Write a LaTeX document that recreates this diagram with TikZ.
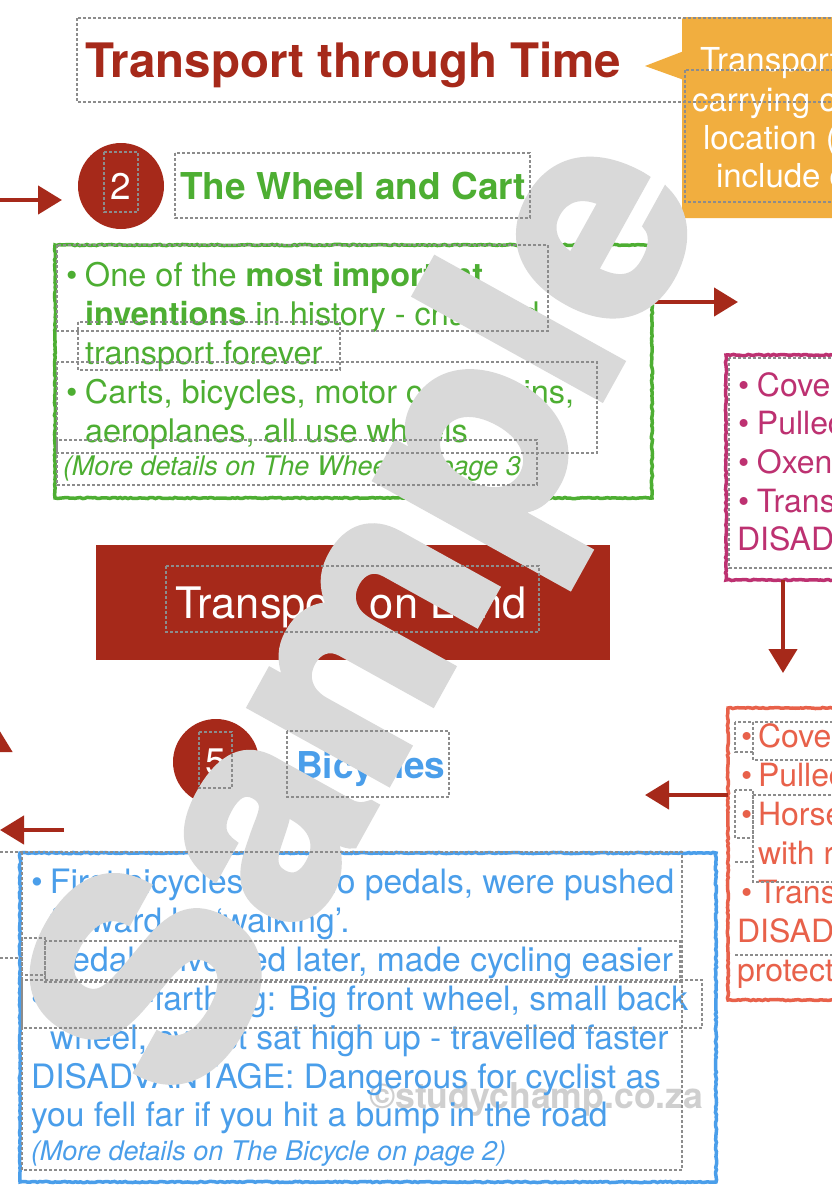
\documentclass[tikz,border=0pt]{standalone}
\usepackage{fontspec}
\setmainfont{TeX Gyre Heros}
\newfontfamily\wmfont{TeX Gyre Heros}[BoldFeatures={FakeBold=2.5}]
\usetikzlibrary{arrows.meta,decorations.pathmorphing}
\definecolor{dred}{HTML}{A6291A}
\definecolor{wgreen}{HTML}{4DAE32}
\definecolor{orng}{HTML}{F1AE3F}
\definecolor{mgnt}{HTML}{BD3171}
\definecolor{coral}{HTML}{E8614A}
\definecolor{bblue}{HTML}{4A9EEA}
\definecolor{wmgrey}{HTML}{D9D9D9}
\definecolor{cgrey}{HTML}{CFCFCF}
\definecolor{dgrey}{HTML}{8C8C8C}
\newcommand{\fsz}[1]{\fontsize{#1}{#1}\selectfont}
\newcommand{\bulx}[1][19pt]{\makebox[#1][l]{•}}
\begin{document}
\begin{tikzpicture}[x=1pt,y=-1pt,
  txt/.style={anchor=base west,inner sep=0pt,outer sep=0pt},
  framebox/.style={draw=dgrey,dash pattern=on 3pt off 2pt,line width=1.1pt},
  rough/.style={decorate,decoration={random steps,segment length=2.5pt,amplitude=0.6pt},line width=3.5pt},
  conn/.style={draw=dred,line width=4.5pt,-{Triangle[length=24pt,width=28pt]}},
  panel/.style={anchor=north west,inner sep=0pt,outer sep=0pt,rough},
  numcirc/.style={circle,fill=dred,minimum size=86pt,inner sep=0pt,text=white,font=\fsz{37}},
  body/.style={txt,font=\fsz{32.5}},
  bbody/.style={txt,font=\fsz{33.6},text=bblue},
  ctext/.style={txt,text=white,font=\fsz{33}},
  wmark/.style={rotate=61,text=wmgrey,font=\wmfont\fsz{291}\bfseries,inner sep=0pt},
]
\useasboundingbox (0,0) rectangle (832,1194);
\clip (0,0) rectangle (832,1194);
\fill[white] (0,0) rectangle (832,1194);

% ---------- panels ----------
\node[panel,draw=wgreen,minimum width=597pt,minimum height=253pt] (green) at (55,245) {};
\node[panel,draw=mgnt,minimum width=400pt,minimum height=225pt] (mag) at (726,355) {};
\node[panel,draw=coral,minimum width=400pt,minimum height=292pt] (cor) at (728,708) {};
\node[panel,draw=bblue,minimum width=696pt,minimum height=329pt] (blue) at (20,853) {};

% callout
\node[anchor=north west,fill=orng,minimum width=300pt,minimum height=201pt,inner sep=0pt,rounded corners=2pt] (call) at (682,17) {};
\fill[orng] (645,66) -- (684,51) -- (684,80) -- cycle;

% banner
\node[anchor=north west,fill=dred,minimum width=514pt,minimum height=115pt,inner sep=0pt] (land) at (96,545) {};

% number circles
\node[numcirc] (c2) at (121,186) {2};
\node[numcirc] (c5) at (216,762) {5};

% ---------- connectors ----------
\coordinate (a1s) at (-10,200);
\coordinate (a1e) at (62,200);
\draw[conn] (a1s) -- (a1e);
\coordinate (a2e) at (738,302);
\draw[conn] (green.east |- a2e) -- (a2e);
\coordinate (a3e) at (783,673);
\draw[conn] (a3e |- mag.south) -- (a3e);
\coordinate (a4e) at (645,795);
\draw[conn] (cor.west |- a4e) -- (a4e);
\coordinate (a5s) at (-2,800);
\coordinate (a5e) at (-2,728);
\draw[conn] (a5s) -- (a5e);
\coordinate (a6s) at (64,830);
\coordinate (a6e) at (0,830);
\draw[conn] (a6s) -- (a6e);

% ---------- watermark copyright ----------
\node[txt,text=cgrey,font=\fsz{35.6}\bfseries] (copy) at (369,1108) {©studychamp.co.za};

% ---------- texts ----------
\node[txt,text=dred,font=\fsz{47.5}\bfseries] (title) at (85,77) {Transport through Time};

\node[ctext] (k1) at (700,71) {Transport is the};
\node[ctext] (k2) at (692,111) {carrying of goods and};
\node[ctext] (k3) at (703,149) {location (place) to};
\node[ctext] (k4) at (716,187) {include cars, buses};

\node[txt,text=wgreen,font=\fsz{37}\bfseries] (h2) at (180,199) {The Wheel and Cart};
\node[body,text=wgreen] (g1) at (66,286) {\bulx One of the \textbf{most important}};
\node[body,text=wgreen] (g2) at (85,325) {\textbf{inventions} in history - changed};
\node[body,text=wgreen] (g3) at (85,364) {transport forever};
\node[body,text=wgreen] (g4) at (66,403) {\bulx Carts, bicycles, motor cars, trains,};
\node[body,text=wgreen] (g5) at (85,442) {aeroplanes, all use wheels};
\node[txt,text=wgreen,font=\fsz{27}\itshape] (g6) at (63,475) {(More details on The Wheel on page 3)};

\node[txt,text=white,font=\fsz{43.4}] (landt) at (175,618) {Transport on Land};

\node[txt,text=mgnt,font=\fsz{32}] (m1) at (738,396) {\bulx Covered wagons};
\node[txt,text=mgnt,font=\fsz{32}] (m2) at (738,434) {\bulx Pulled by oxen};
\node[txt,text=mgnt,font=\fsz{32}] (m3) at (738,473) {\bulx Oxen were slow};
\node[txt,text=mgnt,font=\fsz{32}] (m4) at (738,512) {\bulx Transported families};
\node[txt,text=mgnt,font=\fsz{32}] (m5) at (737,550) {DISADVANTAGE: slow};

\node[txt,text=coral,font=\fsz{32}] (r1) at (741,747) {\bulx[17pt]Covered coaches};
\node[txt,text=coral,font=\fsz{32}] (r2) at (741,786) {\bulx[17pt]Pulled by horses};
\node[txt,text=coral,font=\fsz{32}] (r3) at (741,825) {\bulx[17pt]Horses were faster};
\node[txt,text=coral,font=\fsz{32}] (r4) at (758,864) {with riders};
\node[txt,text=coral,font=\fsz{32}] (r5) at (741,903) {\bulx[17pt]Transported people};
\node[txt,text=coral,font=\fsz{32}] (r6) at (737,942) {DISADVANTAGE: little};
\node[txt,text=coral,font=\fsz{32}] (r7) at (737,981) {protection from weather};

\node[txt,text=bblue,font=\fsz{37}\bfseries] (h5) at (296,778) {Bicycles};
\node[bbody] (b1) at (31,893) {\bulx First bicycles had no pedals, were pushed};
\node[bbody] (b2) at (50,932) {forward by ‘walking’.};
\node[bbody] (b3) at (31,971) {\bulx Pedals invented later, made cycling easier};
\node[bbody] (b4) at (31,1010) {\bulx Penny-farthing: Big front wheel, small back};
\node[bbody] (b5) at (50,1049) {wheel, cyclist sat high up - travelled faster};
\node[bbody] (b6) at (31,1088) {DISADVANTAGE: Dangerous for cyclist as};
\node[bbody] (b7) at (31,1126) {you fell far if you hit a bump in the road};
\node[txt,text=bblue,font=\fsz{27}\itshape] (b8) at (31,1160) {(More details on The Bicycle on page 2)};

% ---------- Sample watermark ----------
\node[wmark] (wm) at (392,619) {\phantom{S}ample};
\node[wmark] (wmS) at (376,622) {S\phantom{ample}};

% ---------- dashed text frames ----------
\draw[framebox] (77,18) rectangle (900,102);
\draw[framebox] (685,70) rectangle (900,202);
\draw[framebox] (104,152) rectangle (138,212);
\draw[framebox] (175,153) rectangle (530,218);
\draw[framebox] (57,245) rectangle (548,331);
\draw[framebox] (78,322) rectangle (340,370);
\draw[framebox] (57,362) rectangle (597,453);
\draw[framebox] (57,440) rectangle (537,485);
\draw[framebox] (166,566) rectangle (539,632);
\draw[framebox] (199,732) rectangle (232,788);
\draw[framebox] (287,731) rectangle (449,797);
\draw[framebox] (729,358) rectangle (900,568);
\draw[framebox] (735,722) rectangle (753,752);
\draw[framebox] (753,722) rectangle (900,760);
\draw[framebox] (735,790) rectangle (753,838);
\draw[framebox] (753,795) rectangle (900,882);
\draw[framebox] (735,862) -- (753,862);
\draw[framebox] (735,955) -- (900,955);
\draw[framebox] (0,852) -- (22,852);
\draw[framebox] (22,852) rectangle (682,1170);
\draw[framebox] (45,941) rectangle (680,982);
\draw[framebox] (22,938) rectangle (45,975);
\draw[framebox] (0,958) -- (22,958);
\draw[framebox] (22,980) rectangle (702,1028);
\end{tikzpicture}
\end{document}
